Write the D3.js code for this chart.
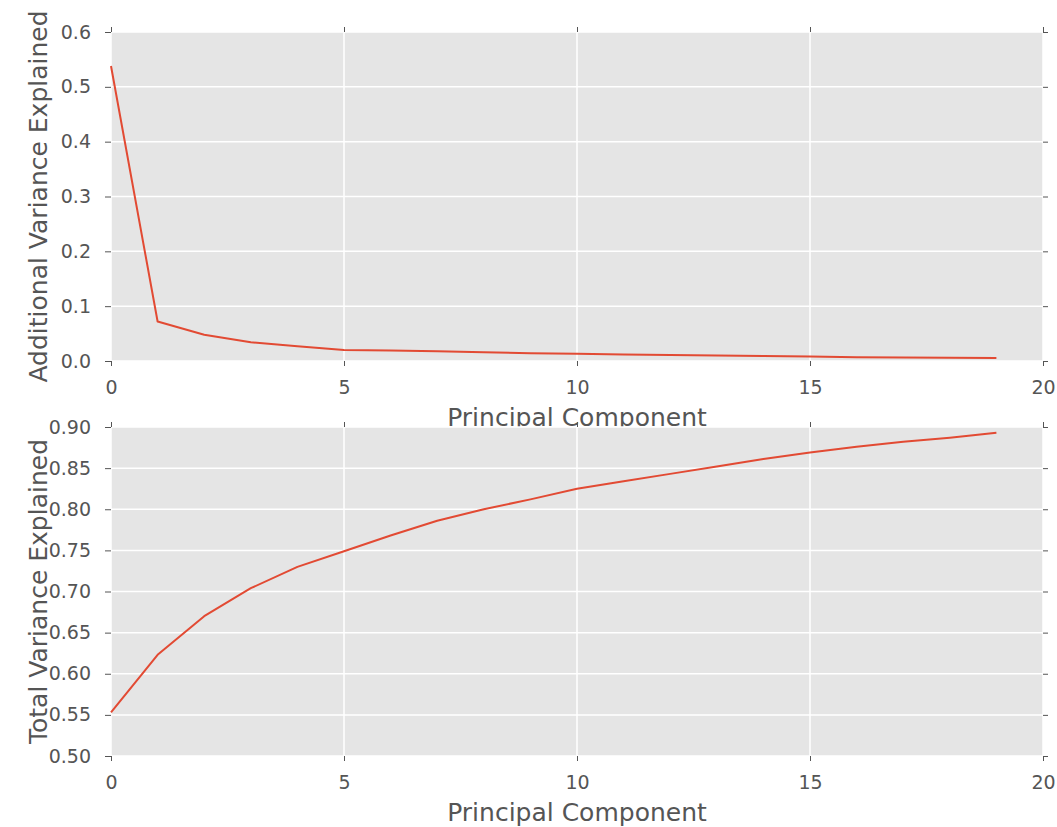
<!DOCTYPE html>
<html>
<head>
<meta charset="utf-8">
<script src="https://cdn.jsdelivr.net/npm/d3@7"></script>
<style>
  html, body { margin: 0; padding: 0; background: #fff; }
  svg { display: block; font-family: "DejaVu Sans", sans-serif; }
</style>
</head>
<body>
<svg id="chart" width="1057" height="827"></svg>
<script>
// ---- data ----
const components = d3.range(0, 20);
const additionalVariance = [0.538, 0.072, 0.048, 0.034, 0.027, 0.020, 0.019, 0.018, 0.016, 0.014,
                            0.013, 0.012, 0.011, 0.010, 0.009, 0.008, 0.007, 0.0065, 0.006, 0.0055];
const totalVariance = [0.553, 0.623, 0.670, 0.704, 0.730, 0.749, 0.768, 0.786, 0.800, 0.812,
                       0.825, 0.834, 0.843, 0.852, 0.861, 0.869, 0.876, 0.882, 0.887, 0.893];
const xTicks = [0, 5, 10, 15, 20];
const topYTicks = [0.0, 0.1, 0.2, 0.3, 0.4, 0.5, 0.6];
const bottomYTicks = [0.50, 0.55, 0.60, 0.65, 0.70, 0.75, 0.80, 0.85, 0.90];
const xLabel = "Principal Component";
const topYLabel = "Additional Variance Explained";
const bottomYLabel = "Total Variance Explained";

// ---- layout ----
const svg = d3.select("#chart");
const left = 111, right = 1043;
const panels = [
  { top: 32, bottom: 361, values: additionalVariance, domain: [0, 0.6], ticks: topYTicks, fmt: d3.format(".1f"), ylabel: topYLabel },
  { top: 427, bottom: 756, values: totalVariance, domain: [0.5, 0.9], ticks: bottomYTicks, fmt: d3.format(".2f"), ylabel: bottomYLabel }
];
const x = d3.scaleLinear().domain([0, 20]).range([left, right]);
const textColor = "#555555";
const tickFont = 19, labelFont = 25;

const groups = [];
const topLabels = [];

panels.forEach((p, i) => {
  const y = d3.scaleLinear().domain(p.domain).range([p.bottom, p.top]);
  const g = svg.append("g");
  groups.push(g);

  // background
  g.append("rect").attr("x", left).attr("y", p.top)
    .attr("width", right - left).attr("height", p.bottom - p.top)
    .attr("fill", "#E5E5E5");

  // grid
  g.append("g").selectAll("line").data(xTicks).join("line")
    .attr("x1", d => x(d)).attr("x2", d => x(d))
    .attr("y1", p.top).attr("y2", p.bottom)
    .attr("stroke", "#fff").attr("stroke-width", 1.5);
  g.append("g").selectAll("line").data(p.ticks).join("line")
    .attr("x1", left).attr("x2", right)
    .attr("y1", d => y(d)).attr("y2", d => y(d))
    .attr("stroke", "#fff").attr("stroke-width", 1.5);

  // axes
  const styleAxis = sel => {
    sel.select(".domain").remove();
    sel.selectAll(".tick line").attr("stroke", textColor).attr("stroke-width", 1);
    sel.selectAll(".tick text").attr("fill", textColor).style("font-size", tickFont + "px")
      .style("font-family", "'DejaVu Sans', sans-serif");
  };
  g.append("g").attr("transform", `translate(0,${p.bottom})`)
    .call(d3.axisBottom(x).tickValues(xTicks).tickFormat(d3.format("d")).tickSize(5).tickPadding(14.5))
    .call(styleAxis);
  g.append("g").attr("transform", `translate(0,${p.top})`)
    .call(d3.axisTop(x).tickValues(xTicks).tickFormat("").tickSize(5))
    .call(styleAxis);
  g.append("g").attr("transform", `translate(${left},0)`)
    .call(d3.axisLeft(y).tickValues(p.ticks).tickFormat(p.fmt).tickSize(6).tickPadding(14))
    .call(styleAxis);
  g.append("g").attr("transform", `translate(${right},0)`)
    .call(d3.axisRight(y).tickValues(p.ticks).tickFormat("").tickSize(5))
    .call(styleAxis);

  // line
  const line = d3.line().x((d, j) => x(components[j])).y(d => y(d));
  g.append("path").datum(p.values)
    .attr("d", line).attr("fill", "none")
    .attr("stroke", "#E24A33").attr("stroke-width", 2)
    .attr("stroke-linejoin", "round");

  // x label
  const xl = g.append("text")
    .attr("x", (left + right) / 2).attr("y", p.bottom + 65)
    .attr("text-anchor", "middle").attr("fill", textColor)
    .style("font-size", labelFont + "px").text(xLabel);
  topLabels.push(xl);

  // y label
  g.append("text")
    .attr("transform", `translate(47,${(p.top + p.bottom) / 2}) rotate(-90)`)
    .attr("text-anchor", "middle").attr("fill", textColor)
    .style("font-size", labelFont + "px").text(p.ylabel);
});

// the upper panel's x label sits partly under the lower panel, as in the reference
svg.node().insertBefore(topLabels[0].node(), groups[1].node());
</script>
</body>
</html>
